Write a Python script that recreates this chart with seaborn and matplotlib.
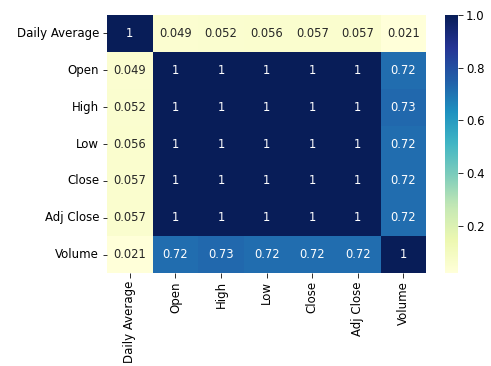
import numpy as np
import pandas as pd
import seaborn as sns
import matplotlib
matplotlib.use("Agg")
import matplotlib.pyplot as plt

labels = ["Daily Average", "Open", "High", "Low", "Close", "Adj Close", "Volume"]
daily_avg = [1.0, 0.049, 0.052, 0.056, 0.057, 0.057, 0.021]
open_ = [0.049, 1.0, 1.0, 1.0, 1.0, 1.0, 0.72]
high = [0.052, 1.0, 1.0, 1.0, 1.0, 1.0, 0.73]
low = [0.056, 1.0, 1.0, 1.0, 1.0, 1.0, 0.72]
close = [0.057, 1.0, 1.0, 1.0, 1.0, 1.0, 0.72]
adj_close = [0.057, 1.0, 1.0, 1.0, 1.0, 1.0, 0.72]
volume = [0.021, 0.72, 0.73, 0.72, 0.72, 0.72, 1.0]

corr = pd.DataFrame(
    [daily_avg, open_, high, low, close, adj_close, volume],
    index=labels, columns=labels,
)

fig = plt.figure(figsize=(491 / 72, 366 / 72), dpi=72)
ax = fig.add_axes([0.218, 0.254, 0.650, 0.705])
cax = fig.add_axes([0.906, 0.254, 0.027, 0.705])
sns.heatmap(corr, annot=True, cmap="YlGnBu", ax=ax, cbar_ax=cax,
            annot_kws={"fontsize": 11.5})
ax.tick_params(labelsize=11.8, length=4.5)
cax.tick_params(labelsize=11.8, length=4.5)
fig.savefig("out.png", dpi=72)
